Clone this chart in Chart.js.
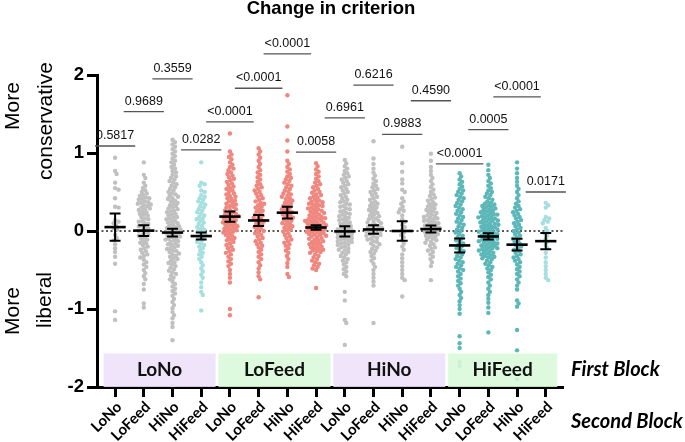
<!DOCTYPE html>
<html>
<head>
<meta charset="utf-8">
<script src="https://cdn.jsdelivr.net/npm/chart.js@4.4.1/dist/chart.umd.min.js"></script>
<style>
  html, body { margin: 0; padding: 0; background: #fff; }
</style>
</head>
<body>
<canvas id="criterionChart" width="685" height="442"></canvas>
<script>
// First block (bands) and second block (x tick labels)
const firstBlock = ['LoNo', 'LoFeed', 'HiNo', 'HiFeed'];
const secondBlock = ['LoNo', 'LoFeed', 'HiNo', 'HiFeed'];
const yTicks = [-2, -1, 0, 1, 2];

// Change in criterion per participant (first block / second block)
const loNoLoNo = [0.94, 0.77, 0.73, 0.62, 0.55, 0.53, 0.42, 0.31, 0.30, 0.14, 0.12, 0.10, 0.07, 0.04, 0.02, -0.05, -0.09, -0.12, -0.17, -0.22, -0.27, -0.33, -0.42, -1.03, -1.14];
const loNoLoFeed = [0.88, 0.72, 0.68, 0.62, 0.58, 0.55, 0.52, 0.50, 0.48, 0.46, 0.45, 0.43, 0.42, 0.41, 0.40, 0.38, 0.37, 0.36, 0.35, 0.34, 0.33, 0.32, 0.30, 0.29, 0.28, 0.27, 0.25, 0.24, 0.22, 0.21, 0.20, 0.18, 0.16, 0.15, 0.13, 0.12, 0.10, 0.09, 0.07, 0.06, 0.04, 0.03, 0.01, 0.00, -0.02, -0.03, -0.05, -0.06, -0.08, -0.10, -0.11, -0.13, -0.15, -0.16, -0.18, -0.20, -0.22, -0.24, -0.26, -0.28, -0.30, -0.32, -0.34, -0.37, -0.40, -0.43, -0.46, -0.50, -0.54, -0.58, -0.62, -0.68, -0.75, -0.93, -0.98];
const loNoHiNo = [1.17, 1.14, 1.11, 1.08, 1.05, 1.02, 0.99, 0.96, 0.93, 0.90, 0.88, 0.85, 0.82, 0.80, 0.77, 0.75, 0.72, 0.70, 0.68, 0.66, 0.64, 0.62, 0.60, 0.58, 0.56, 0.54, 0.52, 0.50, 0.48, 0.47, 0.45, 0.44, 0.42, 0.41, 0.39, 0.38, 0.36, 0.35, 0.33, 0.32, 0.30, 0.29, 0.28, 0.26, 0.25, 0.24, 0.22, 0.21, 0.20, 0.18, 0.17, 0.16, 0.15, 0.13, 0.12, 0.11, 0.10, 0.08, 0.07, 0.06, 0.05, 0.04, 0.03, 0.02, 0.01, 0.00, -0.01, -0.02, -0.03, -0.04, -0.05, -0.06, -0.07, -0.08, -0.09, -0.10, -0.11, -0.12, -0.13, -0.14, -0.16, -0.17, -0.18, -0.19, -0.21, -0.22, -0.23, -0.25, -0.26, -0.27, -0.29, -0.30, -0.32, -0.33, -0.35, -0.36, -0.38, -0.40, -0.41, -0.43, -0.45, -0.47, -0.49, -0.51, -0.53, -0.55, -0.57, -0.60, -0.62, -0.65, -0.68, -0.71, -0.74, -0.77, -0.80, -0.83, -0.87, -0.91, -0.95, -0.99, -1.04, -1.08, -1.12, -1.18, -1.23, -1.40, -1.98];
const loNoHiFeed = [0.88, 0.62, 0.60, 0.58, 0.52, 0.50, 0.46, 0.44, 0.42, 0.40, 0.38, 0.36, 0.34, 0.32, 0.30, 0.28, 0.26, 0.24, 0.22, 0.20, 0.18, 0.16, 0.15, 0.13, 0.11, 0.09, 0.07, 0.05, 0.03, 0.02, 0.00, -0.02, -0.04, -0.06, -0.08, -0.10, -0.12, -0.14, -0.16, -0.18, -0.20, -0.22, -0.25, -0.28, -0.30, -0.33, -0.36, -0.40, -0.44, -0.48, -0.52, -0.56, -0.60, -0.66, -0.72, -0.78, -0.82, -1.02];
const loFeedLoNo = [1.25, 1.02, 0.98, 0.95, 0.92, 0.88, 0.85, 0.82, 0.80, 0.78, 0.75, 0.73, 0.71, 0.69, 0.67, 0.65, 0.63, 0.61, 0.59, 0.57, 0.55, 0.54, 0.52, 0.50, 0.48, 0.47, 0.45, 0.44, 0.42, 0.41, 0.39, 0.38, 0.36, 0.35, 0.34, 0.32, 0.31, 0.30, 0.28, 0.27, 0.26, 0.24, 0.23, 0.22, 0.21, 0.20, 0.19, 0.18, 0.17, 0.16, 0.15, 0.14, 0.13, 0.12, 0.11, 0.10, 0.09, 0.08, 0.07, 0.06, 0.05, 0.04, 0.03, 0.02, 0.01, 0.00, -0.01, -0.02, -0.03, -0.05, -0.06, -0.08, -0.09, -0.11, -0.12, -0.14, -0.16, -0.18, -0.20, -0.22, -0.24, -0.26, -0.28, -0.30, -0.33, -0.36, -0.39, -0.42, -0.45, -0.50, -0.55, -0.60, -0.66, -1.00, -1.08];
const loFeedLoFeed = [1.06, 1.02, 0.98, 0.94, 0.90, 0.86, 0.82, 0.78, 0.75, 0.72, 0.69, 0.66, 0.63, 0.60, 0.58, 0.56, 0.54, 0.52, 0.50, 0.48, 0.46, 0.44, 0.42, 0.40, 0.38, 0.36, 0.35, 0.33, 0.31, 0.30, 0.28, 0.26, 0.25, 0.23, 0.21, 0.20, 0.18, 0.17, 0.15, 0.14, 0.12, 0.11, 0.09, 0.08, 0.06, 0.05, 0.03, 0.02, 0.00, -0.02, -0.03, -0.05, -0.07, -0.09, -0.11, -0.13, -0.15, -0.17, -0.19, -0.21, -0.24, -0.27, -0.30, -0.33, -0.36, -0.40, -0.44, -0.48, -0.53, -0.58, -0.62, -0.85];
const loFeedHiNo = [1.74, 1.34, 1.16, 1.02, 0.90, 0.86, 0.82, 0.79, 0.76, 0.73, 0.70, 0.68, 0.66, 0.64, 0.62, 0.60, 0.58, 0.56, 0.54, 0.52, 0.50, 0.48, 0.47, 0.45, 0.44, 0.42, 0.41, 0.39, 0.38, 0.36, 0.35, 0.33, 0.32, 0.30, 0.29, 0.28, 0.26, 0.25, 0.24, 0.22, 0.21, 0.20, 0.18, 0.17, 0.16, 0.14, 0.13, 0.12, 0.10, 0.09, 0.08, 0.06, 0.05, 0.04, 0.02, 0.01, -0.01, -0.03, -0.05, -0.07, -0.09, -0.11, -0.13, -0.15, -0.17, -0.19, -0.22, -0.25, -0.28, -0.32, -0.36, -0.41, -0.46, -0.55, -0.59];
const loFeedHiFeed = [0.87, 0.83, 0.79, 0.76, 0.73, 0.70, 0.67, 0.64, 0.62, 0.60, 0.58, 0.56, 0.54, 0.52, 0.50, 0.49, 0.47, 0.46, 0.44, 0.43, 0.42, 0.40, 0.39, 0.38, 0.37, 0.36, 0.35, 0.34, 0.33, 0.32, 0.31, 0.30, 0.29, 0.28, 0.27, 0.26, 0.25, 0.24, 0.23, 0.22, 0.21, 0.20, 0.19, 0.18, 0.17, 0.165, 0.16, 0.15, 0.14, 0.135, 0.13, 0.12, 0.11, 0.105, 0.10, 0.09, 0.08, 0.075, 0.07, 0.06, 0.05, 0.045, 0.04, 0.03, 0.02, 0.015, 0.01, 0.00, -0.01, -0.015, -0.02, -0.03, -0.04, -0.045, -0.05, -0.06, -0.07, -0.08, -0.09, -0.10, -0.11, -0.12, -0.13, -0.14, -0.15, -0.16, -0.17, -0.18, -0.19, -0.20, -0.21, -0.22, -0.23, -0.24, -0.25, -0.26, -0.27, -0.28, -0.30, -0.32, -0.34, -0.36, -0.38, -0.40, -0.42, -0.44, -0.46, -0.48, -0.50, -0.73];
const hiNoLoNo = [0.91, 0.87, 0.83, 0.80, 0.77, 0.74, 0.72, 0.70, 0.68, 0.66, 0.64, 0.62, 0.60, 0.58, 0.56, 0.54, 0.52, 0.50, 0.48, 0.46, 0.44, 0.42, 0.40, 0.38, 0.37, 0.35, 0.34, 0.32, 0.31, 0.29, 0.28, 0.26, 0.25, 0.23, 0.22, 0.21, 0.19, 0.18, 0.17, 0.15, 0.14, 0.13, 0.11, 0.10, 0.09, 0.08, 0.06, 0.05, 0.04, 0.03, 0.02, 0.01, 0.00, -0.01, -0.02, -0.03, -0.04, -0.05, -0.06, -0.07, -0.08, -0.09, -0.10, -0.11, -0.12, -0.13, -0.14, -0.15, -0.16, -0.17, -0.18, -0.20, -0.21, -0.22, -0.24, -0.25, -0.27, -0.28, -0.30, -0.32, -0.34, -0.36, -0.38, -0.40, -0.43, -0.46, -0.49, -0.52, -0.55, -0.58, -0.78, -0.89, -1.14, -1.18, -1.46];
const hiNoLoFeed = [1.15, 0.93, 0.86, 0.80, 0.75, 0.71, 0.67, 0.64, 0.61, 0.58, 0.56, 0.54, 0.52, 0.50, 0.48, 0.46, 0.44, 0.42, 0.40, 0.38, 0.36, 0.35, 0.33, 0.32, 0.30, 0.29, 0.27, 0.26, 0.24, 0.23, 0.21, 0.20, 0.19, 0.17, 0.16, 0.15, 0.13, 0.12, 0.11, 0.10, 0.08, 0.07, 0.06, 0.05, 0.04, 0.03, 0.02, 0.01, 0.00, -0.01, -0.02, -0.03, -0.04, -0.05, -0.06, -0.07, -0.09, -0.10, -0.11, -0.13, -0.14, -0.16, -0.17, -0.19, -0.21, -0.23, -0.25, -0.27, -0.29, -0.32, -0.35, -0.38, -0.42, -0.46, -0.50, -0.55, -0.60, -0.65, -0.70, -1.18];
const hiNoHiNo = [1.08, 0.87, 0.76, 0.66, 0.61, 0.53, 0.50, 0.42, 0.38, 0.35, 0.31, 0.28, 0.26, 0.24, 0.20, 0.15, 0.12, 0.08, 0.05, 0.02, -0.02, -0.05, -0.08, -0.12, -0.16, -0.20, -0.24, -0.30, -0.35, -0.40, -0.45, -0.50, -0.55, -0.60, -0.63, -0.84];
const hiNoHiFeed = [0.99, 0.90, 0.82, 0.77, 0.72, 0.68, 0.64, 0.60, 0.56, 0.53, 0.50, 0.47, 0.45, 0.43, 0.41, 0.39, 0.37, 0.35, 0.34, 0.32, 0.31, 0.29, 0.28, 0.27, 0.25, 0.24, 0.23, 0.21, 0.20, 0.19, 0.18, 0.17, 0.16, 0.15, 0.14, 0.13, 0.12, 0.11, 0.10, 0.09, 0.08, 0.07, 0.06, 0.05, 0.04, 0.03, 0.02, 0.01, 0.00, -0.01, -0.02, -0.03, -0.04, -0.05, -0.06, -0.07, -0.08, -0.10, -0.11, -0.12, -0.14, -0.15, -0.17, -0.19, -0.21, -0.23, -0.25, -0.27, -0.30, -0.33, -0.36, -0.40, -0.45, -0.63];
const hiFeedLoNo = [0.74, 0.70, 0.66, 0.63, 0.60, 0.57, 0.54, 0.52, 0.50, 0.48, 0.46, 0.44, 0.42, 0.40, 0.38, 0.36, 0.34, 0.32, 0.30, 0.28, 0.26, 0.24, 0.22, 0.20, 0.18, 0.16, 0.14, 0.12, 0.10, 0.08, 0.06, 0.04, 0.02, 0.00, -0.02, -0.04, -0.06, -0.08, -0.10, -0.12, -0.14, -0.16, -0.18, -0.20, -0.22, -0.24, -0.26, -0.28, -0.30, -0.32, -0.34, -0.36, -0.38, -0.40, -0.42, -0.44, -0.46, -0.48, -0.50, -0.52, -0.55, -0.58, -0.61, -0.64, -0.67, -0.70, -0.74, -0.78, -0.82, -0.86, -0.90, -0.95, -1.00, -1.06, -1.35, -1.44, -1.50, -1.68, -1.73];
const hiFeedLoFeed = [0.85, 0.78, 0.72, 0.68, 0.64, 0.61, 0.58, 0.55, 0.52, 0.50, 0.48, 0.46, 0.44, 0.42, 0.40, 0.38, 0.36, 0.35, 0.34, 0.33, 0.32, 0.31, 0.30, 0.29, 0.28, 0.27, 0.26, 0.25, 0.24, 0.23, 0.22, 0.215, 0.21, 0.20, 0.19, 0.18, 0.175, 0.17, 0.16, 0.15, 0.14, 0.135, 0.13, 0.12, 0.11, 0.10, 0.095, 0.09, 0.08, 0.07, 0.06, 0.055, 0.05, 0.04, 0.03, 0.02, 0.015, 0.01, 0.00, -0.01, -0.02, -0.025, -0.03, -0.04, -0.05, -0.06, -0.065, -0.07, -0.08, -0.09, -0.10, -0.105, -0.11, -0.12, -0.13, -0.14, -0.145, -0.15, -0.16, -0.17, -0.18, -0.185, -0.19, -0.20, -0.21, -0.22, -0.225, -0.23, -0.24, -0.25, -0.26, -0.27, -0.28, -0.29, -0.30, -0.31, -0.32, -0.33, -0.34, -0.35, -0.36, -0.38, -0.40, -0.42, -0.44, -0.46, -0.48, -0.50, -0.53, -0.56, -0.59, -0.62, -0.66, -0.70, -0.74, -0.78, -0.82, -0.87, -0.92, -0.98, -1.05, -1.30];
const hiFeedHiNo = [0.88, 0.80, 0.74, 0.68, 0.63, 0.58, 0.54, 0.50, 0.46, 0.42, 0.38, 0.35, 0.32, 0.30, 0.28, 0.26, 0.24, 0.22, 0.20, 0.18, 0.16, 0.14, 0.12, 0.10, 0.08, 0.06, 0.04, 0.02, 0.00, -0.02, -0.04, -0.06, -0.08, -0.10, -0.12, -0.14, -0.16, -0.18, -0.20, -0.22, -0.24, -0.26, -0.28, -0.30, -0.32, -0.34, -0.36, -0.38, -0.40, -0.43, -0.46, -0.49, -0.52, -0.55, -0.58, -0.62, -0.66, -0.70, -0.75, -0.89, -0.93, -0.97, -1.27, -1.53, -1.90];
const hiFeedHiFeed = [0.36, 0.33, 0.30, 0.18, 0.16, 0.14, 0.12, 0.10, 0.04, 0.00, -0.03, -0.06, -0.10, -0.14, -0.18, -0.22, -0.28, -0.34, -0.40, -0.45, -0.50, -0.55, -0.60, -0.63];

// Mean and SEM of each group
const groupMeans = [0.05, 0.005, -0.02, -0.065, 0.185, 0.135, 0.235, 0.045, -0.005, 0.02, 0.0, 0.025, -0.185, -0.07, -0.175, -0.13];
const groupSem = [0.175, 0.07, 0.05, 0.045, 0.065, 0.07, 0.075, 0.03, 0.065, 0.055, 0.125, 0.045, 0.09, 0.04, 0.075, 0.105];

// p values and the height (in criterion units) of the line above each group
const pValues = ['0.5817', '0.9689', '0.3559', '0.0282', '<0.0001', '<0.0001', '<0.0001', '0.0058',
                 '0.6961', '0.6216', '0.9883', '0.4590', '<0.0001', '0.0005', '<0.0001', '0.0171'];
const pHeights = [1.09, 1.53, 1.95, 1.04, 1.40, 1.83, 2.27, 1.01, 1.45, 1.87, 1.24, 1.67, 0.86, 1.30, 1.72, 0.50];

const groups = [loNoLoNo, loNoLoFeed, loNoHiNo, loNoHiFeed,
                loFeedLoNo, loFeedLoFeed, loFeedHiNo, loFeedHiFeed,
                hiNoLoNo, hiNoLoFeed, hiNoHiNo, hiNoHiFeed,
                hiFeedLoNo, hiFeedLoFeed, hiFeedHiNo, hiFeedHiFeed];

const GREY = '#c0c0c0', SALMON = '#f0877f', TEAL = '#5cb7b9', AQUA = '#a6dfdf';
const groupColors = [GREY, GREY, GREY, AQUA, SALMON, SALMON, SALMON, SALMON,
                     GREY, GREY, GREY, GREY, TEAL, TEAL, TEAL, AQUA];
const bandColors = ['rgba(238,224,250,0.88)', 'rgba(218,249,218,0.88)', 'rgba(238,224,250,0.88)', 'rgba(218,249,218,0.88)'];

// plot geometry (used for layout and for spreading the dots)
const X_MIN = -0.63, X_MAX = 15.6, Y_MIN = -2, Y_MAX = 2;
const PAD_LEFT = 60, Y_AXIS_W = 37, PAD_RIGHT = 122, PAD_TOP = 75, X_AXIS_H = 55;
const CANVAS_W = 685, CANVAS_H = 442;
const PX_X = (CANVAS_W - PAD_LEFT - Y_AXIS_W - PAD_RIGHT) / (X_MAX - X_MIN);
const PX_Y = (CANVAS_H - PAD_TOP - X_AXIS_H) / (Y_MAX - Y_MIN);
const DOT = 3.4; // dots may overlap a little, like the original

// simple beeswarm: each dot goes to the closest free horizontal slot
function swarm(values, index) {
    const sorted = values.slice().sort((a, b) => b - a);
    const placed = [];
    const out = [];
    sorted.forEach(v => {
        const yp = v * PX_Y;
        let xo = 0;
        for (let step = 0; step < 400; step++) {
            const m = Math.ceil(step / 2) * 0.5;
            const cand = step % 2 ? m : -m;
            const hit = placed.some(p => {
                const dy = p.y - yp;
                const dx = p.x - cand;
                return dx * dx + dy * dy < DOT * DOT;
            });
            if (!hit) { xo = cand; break; }
        }
        placed.push({ x: xo, y: yp });
        out.push({ x: index + xo / PX_X, y: v });
    });
    return out;
}

const datasets = groups.map((vals, i) => ({
    data: swarm(vals, i),
    backgroundColor: groupColors[i],
    borderWidth: 0,
    pointRadius: 2.2,
    pointHoverRadius: 2.2
}));

const decorPlugin = {
    id: 'decor',
    beforeDatasetsDraw(chart) {
        const { ctx, chartArea, scales } = chart;
        const y0 = scales.y.getPixelForValue(0);
        ctx.save();
        ctx.strokeStyle = '#222';
        ctx.lineWidth = 1.3;
        ctx.setLineDash([2, 2.5]);
        ctx.beginPath();
        ctx.moveTo(chartArea.left, y0);
        ctx.lineTo(chartArea.right, y0);
        ctx.stroke();
        ctx.restore();
    },
    afterDatasetsDraw(chart) {
        const { ctx, scales } = chart;
        const x = scales.x, y = scales.y;
        ctx.save();
        // first block bands
        firstBlock.forEach((name, b) => {
            const left = x.getPixelForValue(b * 4 - 0.4);
            const right = x.getPixelForValue(b * 4 + 3.4 + (b === 3 ? 0 : 0.1));
            const top = y.getPixelForValue(-1.57);
            const bottom = y.getPixelForValue(-2);
            ctx.fillStyle = bandColors[b];
            ctx.fillRect(left, top, right - left, bottom - top);
            ctx.fillStyle = '#111';
            ctx.font = 'bold 19px Lato';
            ctx.textAlign = 'center';
            ctx.textBaseline = 'middle';
            ctx.fillText(name, (left + right) / 2, (top + bottom) / 2);
        });
        // mean and SEM
        ctx.strokeStyle = '#000';
        groupMeans.forEach((m, i) => {
            const cx = x.getPixelForValue(i);
            const hw = 0.37 * PX_X, cw = 0.19 * PX_X;
            const ym = y.getPixelForValue(m);
            const yt = y.getPixelForValue(m + groupSem[i]);
            const yb = y.getPixelForValue(m - groupSem[i]);
            ctx.lineWidth = 2.6;
            ctx.beginPath();
            ctx.moveTo(cx - hw, ym); ctx.lineTo(cx + hw, ym);
            ctx.stroke();
            ctx.lineWidth = 2;
            ctx.beginPath();
            ctx.moveTo(cx, yt); ctx.lineTo(cx, yb);
            ctx.moveTo(cx - cw, yt); ctx.lineTo(cx + cw, yt);
            ctx.moveTo(cx - cw, yb); ctx.lineTo(cx + cw, yb);
            ctx.stroke();
        });
        ctx.restore();
    },
    afterDraw(chart) {
        const { ctx, scales, chartArea } = chart;
        const x = scales.x, y = scales.y;
        ctx.save();
        // p values
        ctx.font = '12.5px "Liberation Sans"';
        ctx.textAlign = 'center';
        ctx.textBaseline = 'alphabetic';
        pValues.forEach((p, i) => {
            const cx = x.getPixelForValue(i);
            const ly = y.getPixelForValue(pHeights[i]);
            const w = ctx.measureText(p).width;
            ctx.strokeStyle = '#555';
            ctx.lineWidth = 1.3;
            ctx.beginPath();
            ctx.moveTo(cx - w / 2 - 1, ly);
            ctx.lineTo(cx + w / 2 + 1, ly);
            ctx.stroke();
            ctx.fillStyle = '#111';
            ctx.fillText(p, cx, ly - 7);
        });
        // title
        ctx.fillStyle = '#000';
        ctx.font = 'bold 18.5px "Liberation Sans"';
        ctx.textBaseline = 'top';
        ctx.fillText('Change in criterion', 331, 0);
        // y titles
        ctx.font = '21px "Liberation Sans"';
        ctx.textBaseline = 'alphabetic';
        const vText = (t, bx, cy) => {
            ctx.save();
            ctx.translate(bx, cy);
            ctx.rotate(-Math.PI / 2);
            ctx.textAlign = 'center';
            ctx.fillText(t, 0, 0);
            ctx.restore();
        };
        vText('More', 19, 106);
        vText('conservative', 52, 121);
        vText('More', 19, 311);
        vText('liberal', 51, 300);
        // block names
        ctx.font = 'italic bold 20px Lato';
        ctx.textAlign = 'left';
        ctx.textBaseline = 'middle';
        ctx.fillText('First Block', chartArea.right + 8, 370);
        ctx.fillText('Second Block', chartArea.right + 8, 422);
        ctx.restore();
    }
};

const ctx = document.getElementById('criterionChart').getContext('2d');
new Chart(ctx, {
    type: 'scatter',
    data: { datasets: datasets },
    options: {
        responsive: false,
        animation: false,
        devicePixelRatio: 1,
        layout: { padding: { left: PAD_LEFT, right: PAD_RIGHT, top: PAD_TOP, bottom: 0 } },
        scales: {
            x: {
                type: 'linear',
                min: X_MIN,
                max: X_MAX,
                afterBuildTicks: axis => { axis.ticks = groups.map((g, i) => ({ value: i })); },
                afterFit: axis => { axis.height = X_AXIS_H; },
                ticks: {
                    autoSkip: false,
                    minRotation: 45,
                    maxRotation: 45,
                    padding: 1,
                    labelOffset: 4,
                    color: '#000',
                    font: { family: 'Lato', weight: 'bold', size: 15 },
                    callback: v => secondBlock[Math.round(v) % 4]
                },
                grid: { drawOnChartArea: false, tickLength: 10, tickWidth: 3, tickColor: '#000' },
                border: { color: '#000', width: 3 }
            },
            y: {
                min: Y_MIN,
                max: Y_MAX,
                afterBuildTicks: axis => { axis.ticks = yTicks.map(v => ({ value: v })); },
                afterFit: axis => { axis.width = Y_AXIS_W; },
                ticks: {
                    padding: 3,
                    color: '#000',
                    font: { family: 'Liberation Sans', weight: 'bold', size: 18.5 }
                },
                grid: { drawOnChartArea: false, tickLength: 10, tickWidth: 3, tickColor: '#000' },
                border: { color: '#000', width: 3 }
            }
        },
        plugins: {
            legend: { display: false },
            tooltip: { enabled: false }
        }
    },
    plugins: [decorPlugin]
});
</script>
</body>
</html>
